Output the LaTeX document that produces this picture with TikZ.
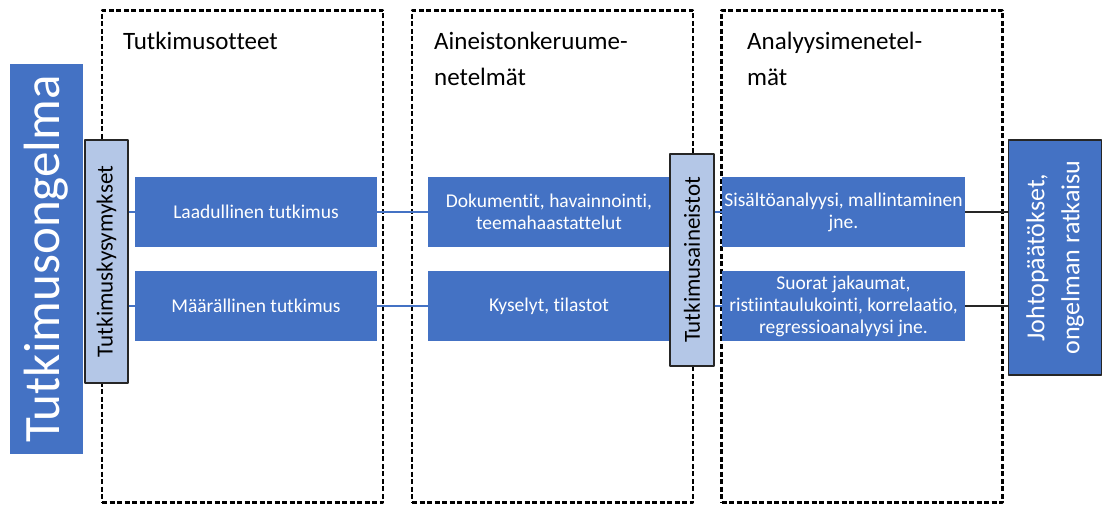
\documentclass[tikz,border=0pt]{standalone}
\usepackage{fontspec}
\setmainfont{Carlito}[Ligatures={NoCommon}]
\usetikzlibrary{positioning}
\definecolor{tkblue}{HTML}{4472C4}
\definecolor{tklight}{HTML}{B4C7E7}
\definecolor{tkline}{HTML}{262626}
\tikzset{
  every picture/.style={line join=round},
  stage/.style={rectangle, draw=black, line width=2.2pt,
    dash pattern=on 5pt off 2.5pt, minimum width=281pt, minimum height=492pt},
  heading/.style={anchor=north west, inner sep=0pt, align=left,
    font=\fontsize{25}{36}\selectfont},
  item/.style={rectangle, fill=tkblue, text=white, align=center, inner sep=0pt,
    minimum width=242pt, minimum height=70pt, font=\fontsize{19.5}{22}\selectfont},
  side/.style={rectangle, rotate=90, draw=tkline, fill=tklight, line width=1.2pt,
    inner sep=0pt, font=\fontsize{23}{27}\selectfont},
  problem/.style={rectangle, rotate=90, fill=tkblue, text=white, inner sep=0pt,
    minimum width=390pt, minimum height=73pt, font=\fontsize{51}{60}\selectfont},
  result/.style={rectangle, rotate=90, draw=tkline, fill=tkblue, text=white,
    line width=1.2pt, inner sep=0pt, align=center,
    minimum width=235pt, minimum height=93pt, font=\fontsize{26}{35}\selectfont},
  link/.style={draw=tkblue, line width=1.5pt},
  outlink/.style={draw=tkline, line width=1.2pt},
}

\begin{document}
\begin{tikzpicture}[x=1pt, y=-1pt]
\useasboundingbox (0, 0) rectangle (1103, 505);

% ---- Three dashed stages with their headings
\node[stage] (otteet)   at (242.5, 256.5) {};
\node[stage] (keruu)    at (552.5, 256.5) {};
\node[stage] (analyysi) at (862, 256.5) {};

\node[heading] (otteet-h)   at (123, 32) {Tutkimusotteet};
\node[heading] (keruu-h)    at (434, 32) {Aineistonkeruume-\\netelmät};
\node[heading] (analyysi-h) at (747, 32) {Analyysimenetel-\\mät};

% ---- Problem and research questions
\node[problem] (ongelma) at (46.5, 259) {Tutkimusongelma};
\node[side, minimum width=243pt, minimum height=43pt] (kysymykset) at (106.5, 261.5)
  {Tutkimuskysymykset};

% ---- Approaches, data collection, analysis
\node[item] (laad)  at (256, 212) {Laadullinen tutkimus};
\node[item] (maar)  at (256, 306) {Määrällinen tutkimus};
\node[item] (dok)   at (549, 212) {Dokumentit, havainnointi,\\teemahaastattelut};
\node[item] (kys)   at (549, 306) {Kyselyt, tilastot};
\node[side, minimum width=212pt, minimum height=44pt] (aineistot) at (692, 260)
  {Tutkimusaineistot};
\node[item, minimum width=243pt] (sis)   at (843.5, 212)
  {Sisältöanalyysi, mallintaminen\\jne.};
\node[item, minimum width=243pt] (suor)  at (843.5, 306)
  {Suorat jakaumat,\\ristiintaulukointi, korrelaatio,\\regressioanalyysi jne.};

% ---- Conclusions
\node[result] (johto) at (1055, 257.5) {Johtopäätökset,\\ongelman ratkaisu};

% ---- Connectors
\draw[link] (kysymykset.south |- laad.west) -- (laad.west);
\draw[link] (kysymykset.south |- maar.west) -- (maar.west);
\draw[link] (laad.east) -- (dok.west);
\draw[link] (maar.east) -- (kys.west);
\draw[link] (aineistot.south |- sis.west) -- (sis.west);
\draw[link] (aineistot.south |- suor.west) -- (suor.west);
\draw[outlink] (sis.east) -- (sis.east -| johto.north);
\draw[outlink] (suor.east) -- (suor.east -| johto.north);

\end{tikzpicture}
\end{document}
